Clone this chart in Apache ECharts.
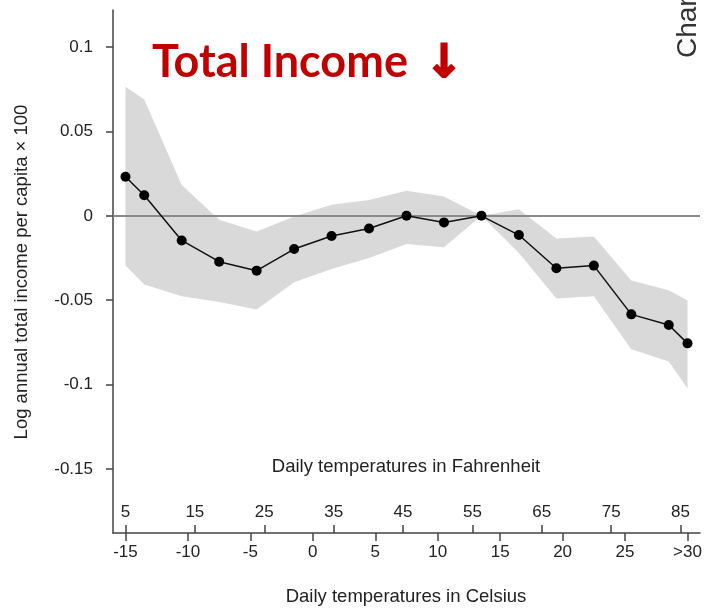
<!DOCTYPE html>
<html><head><meta charset="utf-8">
<script src="https://cdn.jsdelivr.net/npm/echarts@6/dist/echarts.min.js"></script>
<style>html,body{margin:0;padding:0;background:#fff}#c{width:708px;height:609px}</style>
</head><body><div id="c"></div>
<script>
// Bin positions in Celsius
const tempC = [-15, -13.5, -10.5, -7.5, -4.5, -1.5, 1.5, 4.5, 7.5, 10.5, 13.5, 16.5, 19.5, 22.5, 25.5, 28.5, 30];
const estimate = [0.0232, 0.0122, -0.0146, -0.0272, -0.0325, -0.0197, -0.0120, -0.0075, 0.0000, -0.0039, 0.0000, -0.0114, -0.0311, -0.0295, -0.0584, -0.0647, -0.0756];
const upper = [0.0765, 0.0690, 0.0183, -0.0024, -0.0093, -0.0004, 0.0065, 0.0094, 0.0149, 0.0114, 0.0000, 0.0039, -0.0134, -0.0122, -0.0384, -0.0441, -0.0502];
const lower = [-0.0295, -0.0407, -0.0476, -0.0511, -0.0555, -0.0393, -0.0315, -0.0250, -0.0167, -0.0187, 0.0000, -0.0220, -0.0490, -0.0476, -0.0791, -0.0863, -0.1023];
const celsiusTicks = [-15, -10, -5, 0, 5, 10, 15, 20, 25, 30];
const celsiusLabels = ['-15', '-10', '-5', '0', '5', '10', '15', '20', '25', '>30'];
const fahrenheitTicks = [5, 15, 25, 35, 45, 55, 65, 75, 85];
const yTicks = [0.1, 0.05, 0, -0.05, -0.1, -0.15];
const yLabels = ['0.1', '0.05', '0', '-0.05', '-0.1', '-0.15'];

const xMinC = -16, xMaxC = 31;
const toF = c => c * 9 / 5 + 32;
const axisColor = '#444';
const txt = '#222';
const fontFam = 'Liberation Sans, Arial, sans-serif';

const chart = echarts.init(document.getElementById('c'), null, {renderer: 'canvas'});
const bandData = tempC.map((x, i) => [x, upper[i], lower[i]]);

chart.setOption({
  animation: false,
  grid: {left: 113, right: 8, top: 10, bottom: 76, containLabel: false},
  xAxis: [{
    type: 'value', min: xMinC, max: xMaxC, position: 'bottom',
    axisLine: {show: true, onZero: false, lineStyle: {color: axisColor, width: 1.5}},
    axisTick: {show: true, length: 8, lineStyle: {color: axisColor, width: 1.5}, customValues: celsiusTicks},
    axisLabel: {show: true, margin: 11, fontSize: 17, color: txt, fontFamily: fontFam, customValues: celsiusTicks,
      formatter: v => celsiusLabels[celsiusTicks.indexOf(Math.round(v))]},
    splitLine: {show: false}
  }, {
    type: 'value', min: toF(xMinC), max: toF(xMaxC), position: 'bottom',
    axisLine: {show: false, onZero: false},
    axisTick: {show: true, inside: true, length: 8, lineStyle: {color: axisColor, width: 1.5}, customValues: fahrenheitTicks},
    axisLabel: {show: true, inside: true, margin: 12, fontSize: 17, color: txt, fontFamily: fontFam, customValues: fahrenheitTicks,
      formatter: v => String(Math.round(v))},
    splitLine: {show: false}
  }],
  yAxis: {
    type: 'value', min: -0.188, max: 0.122,
    axisLine: {show: true, onZero: false, lineStyle: {color: axisColor, width: 1.5}},
    axisTick: {show: true, length: 7, lineStyle: {color: axisColor, width: 1.5}, customValues: yTicks},
    axisLabel: {show: true, margin: 20, fontSize: 17, color: txt, fontFamily: fontFam, customValues: yTicks,
      formatter: v => yLabels[yTicks.findIndex(t => Math.abs(t - v) < 1e-9)]},
    splitLine: {show: false}
  },
  series: [{
    type: 'custom',
    xAxisIndex: 0,
    renderItem: (params, api) => {
      const pts = [];
      for (let i = 0; i < bandData.length; i++) pts.push(api.coord([bandData[i][0], bandData[i][1]]));
      for (let i = bandData.length - 1; i >= 0; i--) pts.push(api.coord([bandData[i][0], bandData[i][2]]));
      return {type: 'polygon', shape: {points: pts}, style: {fill: '#d9d9d9', stroke: 'none'}};
    },
    data: [0],
    z: 1, silent: true
  }, {
    type: 'line',
    xAxisIndex: 0,
    data: tempC.map((x, i) => [x, estimate[i]]),
    symbol: 'circle', symbolSize: 10,
    itemStyle: {color: '#000'},
    lineStyle: {color: '#111', width: 1.5},
    z: 3,
    markLine: {
      silent: true, symbol: 'none', label: {show: false},
      lineStyle: {color: '#8a8a8a', width: 2, type: 'solid'},
      data: [{yAxis: 0}], z: 2
    }
  }],
  graphic: [
    {type: 'text', left: 152, top: 40, z: 10,
      style: {text: 'Total Income', fill: '#c00000', font: 'bold 45px Lato, "Open Sans", sans-serif'}},
    {type: 'text', x: 444, y: 65, z: 10,
      style: {text: '↓', fill: '#c00000', stroke: '#c00000', lineWidth: 1.8, lineJoin: 'round', font: 'bold 46px "DejaVu Sans", sans-serif', textAlign: 'center', textVerticalAlign: 'middle'}},
    {type: 'text', x: 406, y: 467, z: 10,
      style: {text: 'Daily temperatures in Fahrenheit', fill: txt, font: '18.5px ' + fontFam, textAlign: 'center', textVerticalAlign: 'middle'}},
    {type: 'text', x: 406, y: 597, z: 10,
      style: {text: 'Daily temperatures in Celsius', fill: txt, font: '18.5px ' + fontFam, textAlign: 'center', textVerticalAlign: 'middle'}},
    {type: 'text', x: 22, y: 272, rotation: Math.PI / 2, z: 10,
      style: {text: 'Log annual total income per capita × 100', fill: txt, font: '18.5px ' + fontFam, textAlign: 'center', textVerticalAlign: 'middle'}},
    {type: 'text', x: 688, y: 58, rotation: Math.PI / 2, z: 10,
      style: {text: 'Change in income', fill: '#333', font: '28px ' + fontFam, textAlign: 'left', textVerticalAlign: 'middle'}}
  ]
});
</script></body></html>
